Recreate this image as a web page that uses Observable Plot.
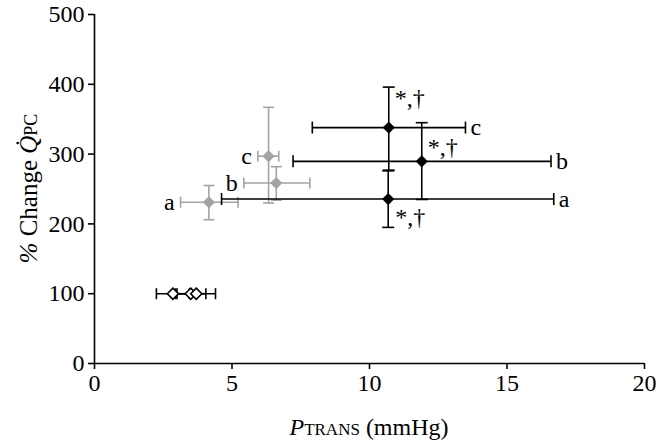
<!DOCTYPE html>
<html>
<head>
<meta charset="utf-8">
<script src="https://cdn.jsdelivr.net/npm/d3@7"></script>
<script src="https://cdn.jsdelivr.net/npm/@observablehq/plot@0.6"></script>
<style>
  html, body { margin: 0; padding: 0; background: #fff; }
  svg text { font-family: "Liberation Serif", "Times New Roman", serif; }
</style>
</head>
<body>
<div id="chart"></div>
<script>
// ---- data ----
const xTicks = [0, 5, 10, 15, 20];
const yTicks = [0, 100, 200, 300, 400, 500];

// baseline (open diamonds)
const baseX   = [2.85, 3.5, 3.7];
const baseY   = [100, 100, 100];
const baseXlo = [2.25, 2.95, 3.0];
const baseXhi = [3.45, 4.05, 4.4];

// grey series
const greyLabel = ["a", "b", "c"];
const greyX   = [4.16, 6.61, 6.33];
const greyY   = [231, 258.5, 297];
const greyXlo = [3.13, 5.43, 5.94];
const greyXhi = [5.22, 7.83, 6.70];
const greyYlo = [206, 234, 230];
const greyYhi = [255, 282, 367];

// black series
const blackLabel = ["a", "b", "c"];
const blackX   = [10.68, 11.9, 10.7];
const blackY   = [235.6, 289.6, 338];
const blackXlo = [4.62, 7.22, 7.92];
const blackXhi = [16.7, 16.6, 13.49];
const blackYlo = [195, 235, 277];
const blackYhi = [276, 345, 396];
const signif   = ["*,†", "*,†", "*,†"];

// ---- build tables ----
const base = baseX.map((x, i) => ({x, y: baseY[i], xlo: baseXlo[i], xhi: baseXhi[i]}));
const grey = greyX.map((x, i) => ({label: greyLabel[i], x, y: greyY[i], xlo: greyXlo[i], xhi: greyXhi[i], ylo: greyYlo[i], yhi: greyYhi[i]}));
const black = blackX.map((x, i) => ({label: blackLabel[i], sig: signif[i], x, y: blackY[i], xlo: blackXlo[i], xhi: blackXhi[i], ylo: blackYlo[i], yhi: blackYhi[i]}));

// cap symbols
const vCap = {draw(ctx, size) { const r = Math.sqrt(size / Math.PI); ctx.moveTo(0, -r); ctx.lineTo(0, r); }};
const hCap = {draw(ctx, size) { const r = Math.sqrt(size / Math.PI); ctx.moveTo(-r, 0); ctx.lineTo(r, 0); }};

const GREY = "#a3a3a3";
const BLACK = "#000";

function errMarks(data, color, capR, withY) {
  const m = [
    Plot.link(data, {x1: "xlo", x2: "xhi", y1: "y", y2: "y", stroke: color, strokeWidth: 1.6}),
    Plot.dot(data, {x: "xlo", y: "y", symbol: vCap, r: capR, stroke: color, strokeWidth: 1.6}),
    Plot.dot(data, {x: "xhi", y: "y", symbol: vCap, r: capR, stroke: color, strokeWidth: 1.6})
  ];
  if (withY) {
    m.push(
      Plot.link(data, {x1: "x", x2: "x", y1: "ylo", y2: "yhi", stroke: color, strokeWidth: 1.6}),
      Plot.dot(data, {x: "x", y: "ylo", symbol: hCap, r: capR, stroke: color, strokeWidth: 1.6}),
      Plot.dot(data, {x: "x", y: "yhi", symbol: hCap, r: capR, stroke: color, strokeWidth: 1.6})
    );
  }
  return m;
}

const font = "Liberation Serif";
const FS = 24;
const W = 668, H = 442, ML = 94, MR = 24, MT = 14, MB = 79;

const chart = Plot.plot({
  width: W,
  height: H,
  marginLeft: ML,
  marginRight: MR,
  marginTop: MT,
  marginBottom: MB,
  style: {fontFamily: font, fontSize: FS + "px", color: "#000", background: "#fff", overflow: "visible"},
  x: {domain: [0, 20]},
  y: {domain: [0, 500]},
  marks: [
    Plot.ruleX([0], {stroke: "#000", strokeWidth: 1.6}),
    Plot.ruleY([0], {stroke: "#000", strokeWidth: 1.6}),
    Plot.axisX({ticks: xTicks, tickSize: 6, tickPadding: 4, fontSize: FS, fontFamily: font, tickFormat: d3.format("d"),
      label: null, strokeWidth: 1.6}),
    Plot.axisY({ticks: yTicks, tickSize: 6, tickPadding: 4, fontSize: FS, fontFamily: font, tickFormat: d3.format("d"),
      label: null, strokeWidth: 1.6}),

    ...errMarks(grey, GREY, 5.5, true),
    Plot.dot(grey, {x: "x", y: "y", symbol: "diamond2", r: 5.5, fill: GREY}),
    Plot.text(grey, {x: "xlo", y: "y", text: "label", textAnchor: "end", dx: -6, fontSize: FS, fontFamily: font}),

    ...errMarks(black, BLACK, 6, true),
    Plot.dot(black, {x: "x", y: "y", symbol: "diamond2", r: 5.5, fill: BLACK}),
    Plot.text(black, {x: "xhi", y: "y", text: "label", textAnchor: "start", dx: 5, fontSize: FS, fontFamily: font}),
    Plot.text(black.filter(d => d.label === "c"), {x: "x", y: "y", text: "sig", textAnchor: "start", dx: 6, dy: -29, fontSize: FS, fontFamily: font}),
    Plot.text(black.filter(d => d.label === "b"), {x: "x", y: "y", text: "sig", textAnchor: "start", dx: 6, dy: -14, fontSize: FS, fontFamily: font}),
    Plot.text(black.filter(d => d.label === "a"), {x: "x", y: "y", text: "sig", textAnchor: "start", dx: 7, dy: 18, fontSize: FS, fontFamily: font}),

    ...errMarks(base, BLACK, 5.5, false),
    Plot.dot(base, {x: "x", y: "y", symbol: "diamond2", r: 5, fill: "#fff", stroke: BLACK, strokeWidth: 1.6})
  ]
});

document.getElementById("chart").appendChild(chart);

// rich-text axis titles (italic letters, small-caps subscripts)
const svg = d3.select(chart);
const plotCx = ML + (W - ML - MR) / 2;
const plotCy = MT + (H - MT - MB) / 2;

const yl = svg.append("text")
  .attr("text-anchor", "middle")
  .attr("font-family", font)
  .attr("font-size", 25)
  .attr("fill", "#000")
  .attr("transform", `translate(37,${plotCy}) rotate(-90)`);
yl.append("tspan").attr("font-style", "italic").text("%");
yl.append("tspan").text(" Change ");
yl.append("tspan").attr("font-style", "italic").text("Q\u0307");
yl.append("tspan").attr("font-size", 18).text("PC");

const xl = svg.append("text")
  .attr("text-anchor", "middle")
  .attr("font-family", font)
  .attr("font-size", FS)
  .attr("fill", "#000")
  .attr("transform", `translate(${plotCx},435)`);
xl.append("tspan").attr("font-style", "italic").text("P");
xl.append("tspan").attr("font-size", 17).text("TRANS");
xl.append("tspan").text(" (mmHg)");
</script>
</body>
</html>
